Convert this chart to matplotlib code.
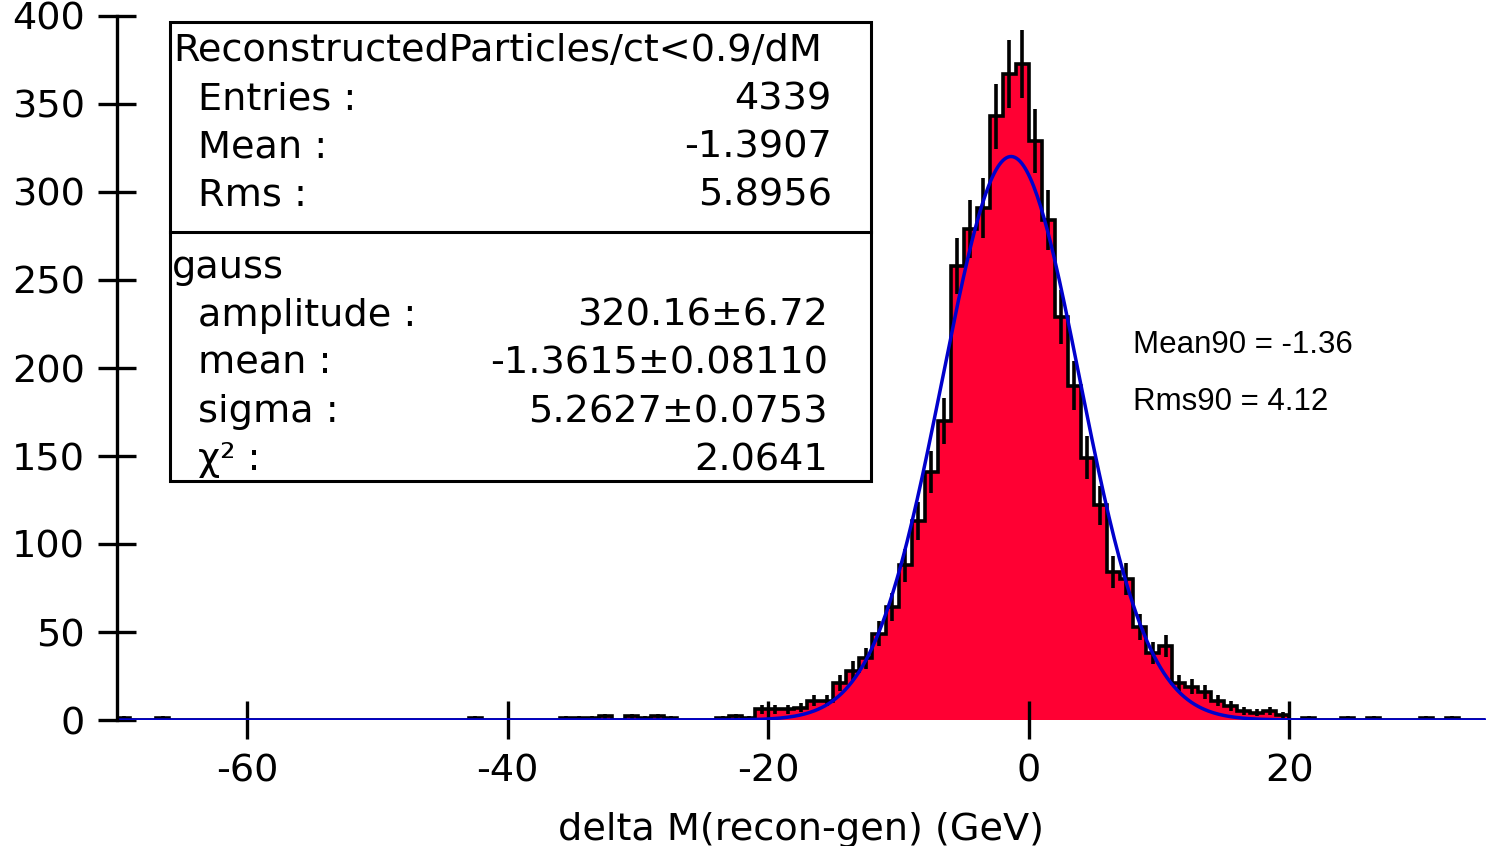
import matplotlib.pyplot as plt
import numpy as np

plt.rcParams['axes.unicode_minus'] = False

# histogram: 1 GeV bins starting at -70
bin_low = -70
counts = [1, 0, 0, 1, 0, 0, 0, 0, 0, 0,
          0, 0, 0, 0, 0, 0, 0, 0, 0, 0,
          0, 0, 0, 0, 0, 0, 0, 1, 0, 0,
          0, 0, 0, 0, 1, 1, 1, 2, 0, 2,
          1, 2, 1, 0, 0, 0, 1, 2, 1, 6,
          6, 6, 7, 11, 11, 21, 28, 35, 49, 64,
          88, 113, 141, 170, 258, 279, 291, 343, 367, 373,
          329, 284, 229, 190, 149, 122, 84, 80, 53, 38,
          42, 21, 19, 16, 11, 8, 5, 4, 5, 3,
          0, 1, 0, 0, 1, 0, 1, 0, 0, 0,
          1, 0, 1, 0, 0]

# gauss fit
amp, mu, sigma = 320.16, -1.3615, 5.2627

stat_rows = [("Entries :", "4339"), ("Mean :", "-1.3907"), ("Rms :", "5.8956")]
fit_rows = [("amplitude :", "320.16\u00b16.72"), ("mean :", "-1.3615\u00b10.08110"),
            ("sigma :", "5.2627\u00b10.0753"), ("\u03c7\u00b2 :", "2.0641")]

counts = np.array(counts, dtype=float)
edges = np.arange(bin_low, bin_low + len(counts) + 1)
centers = edges[:-1] + 0.5

fig = plt.figure(figsize=(14.86, 8.46), dpi=100)
ax = fig.add_axes([117 / 1486, 1 - 720 / 846, 1 - 117 / 1486, (720 - 16) / 846])

ax.stairs(counts, edges, fill=True, color='#ff0033', lw=0)
ax.stairs(counts, edges, color='black', lw=2.6)
nz = counts > 0
ax.errorbar(centers[nz], counts[nz], yerr=np.sqrt(counts[nz]), fmt='none', ecolor='black', elinewidth=2.6)

xf = np.linspace(-70, 35.1, 800)
ax.plot(xf, amp * np.exp(-0.5 * ((xf - mu) / sigma) ** 2), color='#0000cc', lw=2.5)

ax.set_xlim(-70, 35.1)
ax.set_ylim(0, 400)
ax.set_xticks([-60, -40, -20, 0, 20])
ax.set_yticks(range(0, 401, 50))
ax.tick_params(direction='inout', length=28, width=2.4, labelsize=27.5)
ax.tick_params(axis='x', pad=10)
ax.tick_params(axis='y', pad=9)
for s in ['top', 'right', 'bottom']:
    ax.spines[s].set_visible(False)
ax.spines['left'].set_linewidth(2.4)
ax.set_xlabel('delta M(recon-gen) (GeV)', fontsize=27.5, labelpad=16)

# stats box
box = plt.Rectangle((170 / 1486, 1 - 481 / 846), (871 - 170) / 1486, (481 - 22) / 846,
                    transform=fig.transFigure, fill=False, lw=2.2, color='black')
fig.add_artist(box)
fig.add_artist(plt.Line2D([170 / 1486, 871 / 1486], [1 - 232 / 846] * 2,
                          transform=fig.transFigure, color='black', lw=2.2))

def ftext(x, y, s, **kw):
    fig.text(x / 1486, 1 - y / 846, s, va='center', fontsize=27.5, **kw)

ftext(173, 51, "ReconstructedParticles/ct<0.9/dM")
for k, (lab, val) in enumerate(stat_rows):
    ftext(198, 99 + 48 * k, lab)
    ftext(832, 99 + 48 * k, val, ha='right')
ftext(172, 268, "gauss")
for k, (lab, val) in enumerate(fit_rows):
    ftext(198, 316 + 48 * k, lab)
    ftext(828, 316 + 48 * k, val, ha='right')

fig.text(1133 / 1486, 1 - 345 / 846, "Mean90 = -1.36", va='center', fontsize=22.5, family='Liberation Sans')
fig.text(1133 / 1486, 1 - 402 / 846, "Rms90 = 4.12", va='center', fontsize=22.5, family='Liberation Sans')

fig.savefig('out.png', dpi=100)
